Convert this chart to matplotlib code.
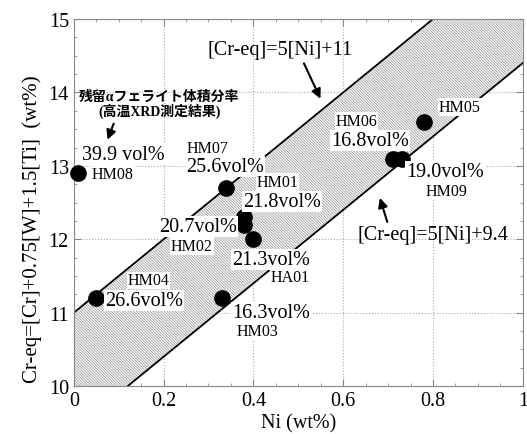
import matplotlib
matplotlib.use('Agg')
import matplotlib.pyplot as plt
import numpy as np
from matplotlib.ticker import MultipleLocator

plt.rcParams['font.family'] = ['Liberation Serif', 'Noto Sans CJK JP']
plt.rcParams['hatch.linewidth'] = 0.6

# sample data: Ni (wt%) and Cr-eq (wt%)
names = ['HM08', 'HM04', 'HM03', 'HM07', 'HM01', 'HM02', 'HA01', 'HM06', 'HM09', 'HM05']
ni = [0.01, 0.05, 0.33, 0.34, 0.38, 0.38, 0.40, 0.71, 0.73, 0.78]
cr_eq = [12.9, 11.2, 11.2, 12.7, 12.3, 12.2, 12.0, 13.1, 13.1, 13.6]
ferrite = ['39.9 vol%', '26.6vol%', '16.3vol%', '25.6vol%', '21.8vol%',
           '20.7vol%', '21.3vol%', '16.8vol%', '19.0vol%', None]

# boundary lines [Cr-eq] = a*[Ni] + b
slope = 5
upper_b = 11
lower_b = 9.4

fig = plt.figure(figsize=(5.27, 4.35), dpi=100)
ax = fig.add_axes([0.14, 0.11, 0.852, 0.844])

x = np.linspace(0, 1, 400)
top = np.minimum(slope * x + upper_b, 15)
bot = np.maximum(slope * x + lower_b, 10)
ax.fill_between(x, bot, top, where=top > bot, facecolor='white',
                edgecolor='#a0a0a0', hatch='\\' * 12, lw=0, zorder=1)
ax.plot(x, slope * x + upper_b, color='black', lw=1.3, zorder=2)
ax.plot(x, slope * x + lower_b, color='black', lw=1.3, zorder=2)

ax.plot(ni, cr_eq, 'o', color='black', ms=11, zorder=4, clip_on=False)

box = dict(boxstyle='square,pad=0.05', fc='white', ec='none')
big = 14.5
small = 11.5

# label positions (x, y, ha)
vol_pos = {'HM08': (0.018, 13.16, 'left'), 'HM04': (0.156, 11.16, 'center'),
           'HM03': (0.439, 11.0, 'center'), 'HM07': (0.336, 12.99, 'center'),
           'HM01': (0.463, 12.52, 'center'), 'HM02': (0.277, 12.18, 'center'),
           'HA01': (0.44, 11.73, 'center'), 'HM06': (0.66, 13.35, 'center'),
           'HM09': (0.827, 12.92, 'center')}
name_pos = {'HM08': (0.04, 12.89, 'left'), 'HM04': (0.167, 11.44, 'center'),
            'HM03': (0.408, 10.75, 'center'), 'HM07': (0.297, 13.24, 'center'),
            'HM01': (0.454, 12.78, 'center'), 'HM02': (0.263, 11.91, 'center'),
            'HA01': (0.482, 11.49, 'center'), 'HM06': (0.63, 13.61, 'center'),
            'HM09': (0.83, 12.66, 'center'), 'HM05': (0.86, 13.8, 'center')}

for n, f in zip(names, ferrite):
    if f is not None:
        xx, yy, ha = vol_pos[n]
        ax.text(xx, yy, f, fontsize=big, ha=ha, va='center', bbox=box, zorder=5)
    xx, yy, ha = name_pos[n]
    ax.text(xx, yy, n, fontsize=small, ha=ha, va='center', bbox=box, zorder=5)

# equations with arrows
ax.text(0.46, 14.59, '[Cr-eq]=5[Ni]+11', fontsize=big, ha='center', va='center')
ax.annotate('', xy=(0.552, 13.88), xytext=(0.51, 14.43),
            arrowprops=dict(arrowstyle='-|>', color='black', lw=1.5,
                            mutation_scale=14))
ax.text(0.80, 12.07, '[Cr-eq]=5[Ni]+9.4', fontsize=big, ha='center', va='center')
ax.annotate('', xy=(0.68, 12.6), xytext=(0.70, 12.2),
            arrowprops=dict(arrowstyle='-|>', color='black', lw=1.5,
                            mutation_scale=14))
ax.text(0.19, 13.85, '残留αフェライト体積分率\n(高温XRD測定結果)', fontsize=10,
        fontweight='bold', ha='center', va='center', linespacing=1.0)
ax.annotate('', xy=(0.073, 13.32), xytext=(0.091, 13.61),
            arrowprops=dict(arrowstyle='-|>', color='black', lw=1.5,
                            mutation_scale=14))

ax.set_xlim(0, 1)
ax.set_ylim(10, 15)
ax.xaxis.set_major_locator(MultipleLocator(0.2))
ax.xaxis.set_minor_locator(MultipleLocator(0.05))
ax.yaxis.set_major_locator(MultipleLocator(1))
ax.yaxis.set_minor_locator(MultipleLocator(0.25))
ax.xaxis.set_major_formatter(plt.FuncFormatter(lambda v, p: '%g' % v))
ax.tick_params(which='both', direction='in', top=True, right=True, labelsize=14.5,
               colors='#888888', labelcolor='black')
ax.tick_params(which='major', length=5)
ax.tick_params(which='minor', length=2.5)
ax.grid(True, which='major', ls=':', color='#aaaaaa', lw=0.8)
ax.set_axisbelow(True)
for s in ax.spines.values():
    s.set_color('#888888')
    s.set_linewidth(0.8)

ax.set_xlabel('Ni (wt%)', fontsize=14.5, labelpad=2)
ax.set_ylabel('Cr-eq=[Cr]+0.75[W]+1.5[Ti]  (wt%)', fontsize=15, va='center')
ax.yaxis.set_label_coords(-0.092, 0.43)

fig.savefig('out.png', dpi=100)
